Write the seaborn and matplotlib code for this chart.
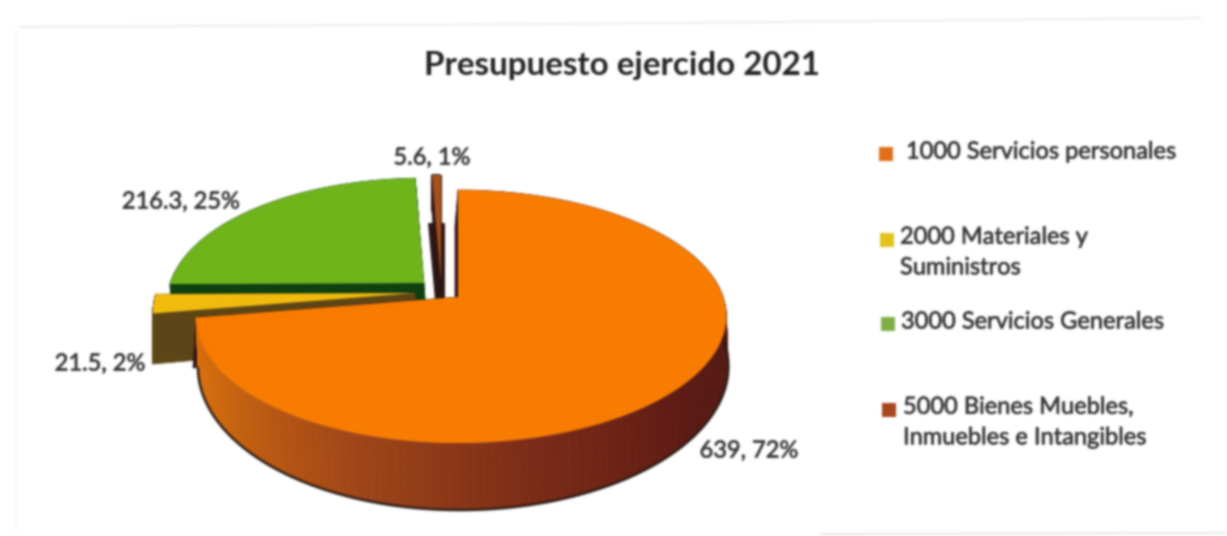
import numpy as np
import matplotlib
matplotlib.use("Agg")
import matplotlib.pyplot as plt
import matplotlib.patheffects as pe
import seaborn as sns
from matplotlib.path import Path
from matplotlib.transforms import Transform, Affine2D
from matplotlib.collections import PolyCollection
from matplotlib.colors import to_rgb

# ---- data ----
categories = ["1000 Servicios personales", "2000 Materiales y\nSuministros",
              "3000 Servicios Generales", "5000 Bienes Muebles,\nInmuebles e Intangibles"]
values = [639, 21.5, 216.3, 5.6]
slice_labels = ["639, 72%", "21.5, 2%", "216.3, 25%", "5.6, 1%"]
title = "Presupuesto ejercido 2021"

# ---- style ----
top_colors = ["#F97C00", "#F2BC0E", "#6FB51B", "#A9501A"]
legend_colors = ["#E0701A", "#E6C21C", "#7FAE45", "#A8451F"]
face_colors = ["#2B1016", "#5D4516", "#0D3F0F", "#2B1414"]
apexes = [(458, 297), (415, 293), (424, 283), (441, 282)]
size_factor = [1.0, 1.0, 0.98, 1.0]
rim_dx = [2, 0, 3, 0]
face_dx = [-3, 0, 3, 0]
label_xy = [(749, 451), (100, 364), (181, 202), (432, 158)]
legend_swatch = [(886, 154), (887, 240), (888, 324), (889, 410)]
legend_text = [(906, 152), (900, 252.5), (901, 322), (903, 422.5)]
RX, RY, K, D0, SKEW = 262.0, 123.5, 0.154, 48.0, 0.012
TXT = "#353535"


class Tilt(Transform):
    """Maps the pie's unit circle on a tilted perspective plane (image pixels)."""
    input_dims = output_dims = 2
    is_affine = False
    has_inverse = False

    def __init__(self, apex, size=1.0):
        super().__init__()
        self.apex = apex
        self.size = size

    def transform_non_affine(self, xy):
        xy = np.asarray(xy, float)
        w = 1 + K * xy[:, 1]
        return np.column_stack((
            self.apex[0] + self.size * RX * xy[:, 0] * (1 + SKEW * xy[:, 0]) / w,
            self.apex[1] - self.size * RY * xy[:, 1] / w))

    def transform_path_non_affine(self, path):
        polys = path.to_polygons(transform=Affine2D().scale(2000), closed_only=True)
        v = np.vstack(polys) / 2000.0
        return Path(self.transform_non_affine(v))


def blur(image, dpi, sigma=1.15, pad=6):
    im = np.pad(image, ((pad, pad), (pad, pad), (0, 0)))
    xs = np.arange(-pad, pad + 1)
    ker = np.exp(-xs ** 2 / (2 * sigma ** 2))
    ker /= ker.sum()
    rgb = im.copy()
    rgb[..., :3] = np.where(im[..., 3:] > 0, im[..., :3], 1.0)
    rgb[..., :3] *= rgb[..., 3:]
    for axis in (0, 1):
        rgb = sum(k * np.roll(rgb, int(s), axis=axis) for k, s in zip(ker, xs))
    a = np.clip(rgb[..., 3:], 1e-4, 1)
    rgb[..., :3] = np.clip(rgb[..., :3] / a, 0, 1)
    return rgb, -pad, -pad


sns.set_theme(style="white")
plt.rcParams["font.family"] = ["Lato", "DejaVu Sans"]

fig = plt.figure(figsize=(12.27, 5.36), dpi=100, facecolor="white")
ax = fig.add_axes([0, 0, 1, 1])
wedges, _ = ax.pie(values, startangle=90, counterclock=False, colors=top_colors, radius=1)
ax.set_aspect("auto")
ax.set_xlim(0, 1227)
ax.set_ylim(536, 0)
ax.axis("off")


def lower(pts, dx):
    """Same rim points on the pie's underside."""
    s = pts[:, 2]
    w = 1 + K * s
    return pts[:, 0] + dx, pts[:, 1] + D0 / w ** 2


stops_t = [189, 215, 250, 285, 320, 370]
stops_c = np.array([to_rgb(c) for c in ["#E2760A", "#CC660E", "#A04618", "#7A2A17", "#5C1A14", "#4A1512"]])


def side_color(i, t):
    if i == 0:
        t = (t % 360)
        t = t if t > 100 else t + 360
        return tuple(np.interp(t, stops_t, stops_c[:, j]) for j in range(3))
    return to_rgb(face_colors[i])


order = {2: 2, 1: 3, 3: 4, 0: 5}
for i, wd in enumerate(wedges):
    apex = apexes[i]
    z = order[i]
    tilt = Tilt(apex, size_factor[i])
    wd.set_transform(tilt + ax.transData)
    wd.set_zorder(z + 0.5)
    wd.set_edgecolor("none")
    wd.set_clip_on(False)
    t = np.linspace(wd.theta1, wd.theta2, 160)
    unit = np.column_stack((np.cos(np.radians(t)), np.sin(np.radians(t))))
    r = np.column_stack((tilt.transform_non_affine(unit), unit[:, 1]))
    bx, by = lower(r, rim_dx[i])
    quads = [[(r[j, 0], r[j, 1]), (r[j + 1, 0], r[j + 1, 1]), (bx[j + 1], by[j + 1]), (bx[j], by[j])]
             for j in range(len(t) - 1)]
    cols = [side_color(i, 0.5 * (t[j] + t[j + 1])) for j in range(len(t) - 1)]
    ap_low = (apex[0] + face_dx[i], apex[1] + D0)
    for edge in (0, -1):
        quads.insert(0, [(apex[0], apex[1]), (r[edge, 0], r[edge, 1]),
                         (r[edge, 0] + face_dx[i], lower(r, 0)[1][edge]), ap_low])
        cols.insert(0, to_rgb(face_colors[i]))
    ax.add_collection(PolyCollection(quads, facecolors=cols, edgecolors=cols, linewidths=0.5, zorder=z))
    if i == 0:
        keep = (t % 360 > 180) & (t % 360 < 360) | (t % 360 < 20)
        ax.plot(bx[keep], by[keep], color="#2A1A12", lw=1.8, zorder=z + 0.1, solid_capstyle="round")
    if i == 3:
        ax.add_collection(PolyCollection(
            [[(apex[0] - 6, apex[1] + 18), (apex[0] + 4, apex[1] + 18), (apex[0] + 4, apex[1] - 59), (apex[0] - 13, apex[1] - 59)]],
            facecolors=[face_colors[3]], edgecolors="none", zorder=z))

heavy = [pe.withStroke(linewidth=0.45, foreground=TXT)]
ax.text(622.5, 66, title, ha="center", va="center", fontsize=23.9, fontweight="bold", color="#222222")
for lab, (x, y) in zip(slice_labels, label_xy):
    ax.text(x, y, lab, ha="center", va="center", fontsize=17, color=TXT, zorder=10, path_effects=heavy)
for cat, col, (sx, sy), (tx, ty) in zip(categories, legend_colors, legend_swatch, legend_text):
    ax.scatter([sx], [sy], marker="s", s=90, color=col, linewidths=0, zorder=10)
    ax.text(tx, ty, cat, ha="left", va="center", fontsize=17, color=TXT, linespacing=1.56, zorder=10,
            path_effects=heavy)

# faint traces of the scanned frame
ax.plot([20, 560, 1200], [27, 24, 18], color="#EFEFEF", lw=1.5, zorder=0)
ax.plot([16, 16], [30, 530], color="#F6F6F6", lw=1.2, zorder=0)
ax.plot([820, 1225], [534, 533], color="#E8E8E8", lw=1.5, zorder=0)

ax.set_agg_filter(blur)
fig.savefig("out.png", dpi=100, facecolor="white")
